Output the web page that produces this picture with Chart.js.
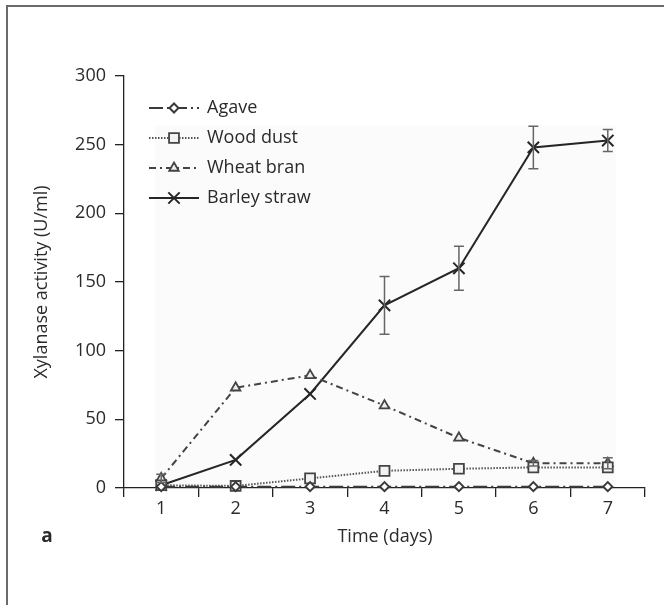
<!DOCTYPE html>
<html>
<head>
<meta charset="utf-8">
<script src="https://cdn.jsdelivr.net/npm/chart.js@4.4.1/dist/chart.umd.min.js"></script>
<style>
  html, body { margin: 0; padding: 0; background: #fff; }
  #wrap { width: 664px; height: 605px; position: relative; }
  canvas { display: block; }
</style>
</head>
<body>
<div id="wrap"><canvas id="c" width="664" height="605"></canvas></div>
<script>
// ---- data ----
const days = ['1', '2', '3', '4', '5', '6', '7'];
const agave = [1, 1, 1, 1, 1, 1, 1];
const woodDust = [2, 1.5, 7, 12.5, 14, 15, 15];
const wheatBran = [7, 73, 82, 60, 36.5, 18, 18];
const barleyStraw = [2, 20.5, 68.5, 133, 160, 248, 253];
const barleyErr = [0, 0, 0, 21, 16, 15.5, 8];
const wheatErr = [3, 0, 0, 0, 0, 2, 4];
const yTicks = [0, 50, 100, 150, 200, 250, 300];
const seriesNames = ['Agave', 'Wood dust', 'Wheat bran', 'Barley straw'];
const xTitle = 'Time (days)';
const yTitle = 'Xylanase activity (U/ml)';
const panelLabel = 'a';

const FONT = "'Open Sans', 'Noto Sans', sans-serif";
const TXT = '#2a2a2a';

Chart.defaults.font.family = FONT;
Chart.defaults.font.size = 18;
Chart.defaults.color = TXT;

const datasets = [
  { label: seriesNames[0], data: agave, borderColor: '#3a3a3a', borderWidth: 2, borderDash: [14, 4, 2, 4],
    pointStyle: 'rectRot', pointRadius: 4.5, pointBorderWidth: 2, pointBackgroundColor: '#fff', pointBorderColor: '#3a3a3a' },
  { label: seriesNames[1], data: woodDust, borderColor: '#555', borderWidth: 2, borderDash: [1.5, 1.5],
    pointStyle: 'rect', pointRadius: 7, pointBorderWidth: 1.8, pointBackgroundColor: '#f2f2f2', pointBorderColor: '#444', err: null },
  { label: seriesNames[2], data: wheatBran, borderColor: '#444', borderWidth: 2, borderDash: [7, 4, 2, 4],
    pointStyle: 'triangle', pointRadius: 5.5, pointBorderWidth: 1.8, pointBackgroundColor: '#eee', pointBorderColor: '#444', err: wheatErr },
  { label: seriesNames[3], data: barleyStraw, borderColor: '#262626', borderWidth: 2, borderDash: [],
    pointStyle: 'crossRot', pointRadius: 8, pointBorderWidth: 2, pointBackgroundColor: '#262626', pointBorderColor: '#262626', err: barleyErr }
];
datasets.forEach(d => { d.tension = 0; d.fill = false; d.pointHoverRadius = d.pointRadius; d.clip = false; });

const bgPlugin = {
  id: 'bg',
  beforeDatasetsDraw(chart) {
    const { ctx, scales: { x, y } } = chart;
    ctx.save();
    ctx.fillStyle = '#fbfbfb';
    const x0 = x.getPixelForValue(0) - 6, x1 = x.getPixelForValue(6) + 8;
    const y0 = y.getPixelForValue(264), y1 = y.getPixelForValue(0) - 1;
    ctx.fillRect(x0, y0, x1 - x0, y1 - y0);
    ctx.restore();
  }
};

const errPlugin = {
  id: 'errbars',
  afterDatasetsDraw(chart) {
    const { ctx, scales: { x, y } } = chart;
    ctx.save();
    ctx.strokeStyle = '#666';
    ctx.lineWidth = 1.5;
    chart.data.datasets.forEach(ds => {
      if (!ds.err) return;
      ds.data.forEach((v, i) => {
        const e = ds.err[i];
        if (!e) return;
        const px = x.getPixelForValue(i);
        const top = y.getPixelForValue(v + e), bot = y.getPixelForValue(v - e);
        ctx.beginPath();
        ctx.moveTo(px, top); ctx.lineTo(px, bot);
        ctx.moveTo(px - 5, top); ctx.lineTo(px + 5, top);
        ctx.moveTo(px - 5, bot); ctx.lineTo(px + 5, bot);
        ctx.stroke();
      });
    });
    ctx.restore();
  }
};

function drawMarker(ctx, ds, cx, cy) {
  const r = ds.pointRadius;
  ctx.save();
  ctx.setLineDash([]);
  ctx.lineWidth = ds.pointBorderWidth;
  ctx.strokeStyle = ds.pointBorderColor;
  ctx.fillStyle = ds.pointBackgroundColor;
  ctx.beginPath();
  if (ds.pointStyle === 'rectRot') {
    ctx.moveTo(cx, cy - r); ctx.lineTo(cx + r, cy); ctx.lineTo(cx, cy + r); ctx.lineTo(cx - r, cy); ctx.closePath();
    ctx.fill(); ctx.stroke();
  } else if (ds.pointStyle === 'rect') {
    const s = r * Math.SQRT1_2;
    ctx.rect(cx - s, cy - s, 2 * s, 2 * s); ctx.fill(); ctx.stroke();
  } else if (ds.pointStyle === 'triangle') {
    ctx.moveTo(cx, cy - r);
    ctx.lineTo(cx + r * Math.sin(2 * Math.PI / 3), cy - r * Math.cos(2 * Math.PI / 3));
    ctx.lineTo(cx - r * Math.sin(2 * Math.PI / 3), cy - r * Math.cos(2 * Math.PI / 3));
    ctx.closePath(); ctx.fill(); ctx.stroke();
  } else if (ds.pointStyle === 'crossRot') {
    const s = r * Math.SQRT1_2;
    ctx.moveTo(cx - s, cy - s); ctx.lineTo(cx + s, cy + s);
    ctx.moveTo(cx - s, cy + s); ctx.lineTo(cx + s, cy - s);
    ctx.stroke();
  }
  ctx.restore();
}

const overlayPlugin = {
  id: 'overlay',
  afterDraw(chart) {
    const { ctx, chartArea } = chart;
    ctx.save();
    // figure frame (top and left)
    ctx.fillStyle = '#6a6a6a';
    ctx.fillRect(6, 5, 658, 2);
    ctx.fillRect(6, 5, 2, 600);

    // legend
    const rows = [108, 138, 168, 198];
    chart.data.datasets.forEach((ds, i) => {
      const cy = rows[i];
      ctx.save();
      ctx.strokeStyle = ds.borderColor;
      ctx.lineWidth = ds.borderWidth;
      ctx.setLineDash(ds.borderDash);
      ctx.beginPath();
      ctx.moveTo(149, cy); ctx.lineTo(199, cy);
      ctx.stroke();
      ctx.restore();
      drawMarker(ctx, ds, 174, cy);
      ctx.fillStyle = TXT;
      ctx.font = '18px ' + FONT;
      ctx.textAlign = 'left';
      ctx.textBaseline = 'middle';
      ctx.fillText(ds.label, 207, cy);
    });

    // axis titles
    ctx.fillStyle = TXT;
    ctx.font = '18px ' + FONT;
    ctx.textAlign = 'center';
    ctx.textBaseline = 'middle';
    ctx.fillText(xTitle, 385, 537);
    ctx.save();
    ctx.translate(42, (chartArea.top + chartArea.bottom) / 2);
    ctx.rotate(-Math.PI / 2);
    ctx.fillText(yTitle, 0, 0);
    ctx.restore();

    // panel label
    ctx.font = 'bold 19px ' + FONT;
    ctx.textAlign = 'center';
    ctx.fillText(panelLabel, 47, 537);
    ctx.restore();
  }
};

new Chart(document.getElementById('c'), {
  type: 'line',
  data: { labels: days, datasets },
  options: {
    responsive: false,
    devicePixelRatio: 1,
    animation: false,
    layout: { padding: { left: 0, right: 19, top: 76, bottom: 0 } },
    plugins: { legend: { display: false }, tooltip: { enabled: false } },
    scales: {
      x: {
        type: 'category',
        offset: true,
        grid: { offset: true, drawOnChartArea: false, drawTicks: true, tickLength: 9, color: '#222', lineWidth: 1.3 },
        border: { display: true, color: '#222', width: 1.3 },
        ticks: { padding: 1, color: TXT, font: { size: 18 }, maxRotation: 0 },
        afterFit(scale) { scale.height = 117; }
      },
      y: {
        type: 'linear',
        min: 0, max: 300,
        afterBuildTicks(scale) { scale.ticks = yTicks.map(v => ({ value: v })); },
        grid: { drawOnChartArea: false, drawTicks: true, tickLength: 9, color: '#222', lineWidth: 1.3 },
        border: { display: true, color: '#222', width: 1.3 },
        ticks: { padding: 9, color: TXT, font: { size: 18 } },
        afterFit(scale) { scale.width = 124; }
      }
    }
  },
  plugins: [bgPlugin, errPlugin, overlayPlugin]
});
</script>
</body>
</html>
